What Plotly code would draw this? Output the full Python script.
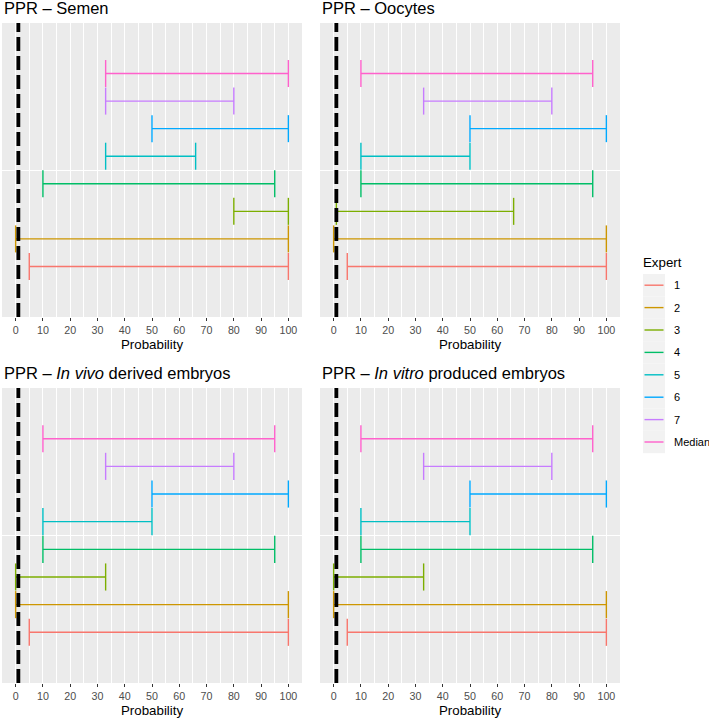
import plotly.graph_objects as go

W, H = 709, 720

EXPERTS = ["1", "2", "3", "4", "5", "6", "7", "Median"]
COLORS = ["#F8766D", "#CD9600", "#7CAE00", "#00BE67", "#00BFC4", "#00A9FF", "#C77CFF", "#FF61CC"]

PANELS = ["PPR – Semen", "PPR – Oocytes",
          "PPR – <i>In vivo</i> derived embryos", "PPR – <i>In vitro</i> produced embryos"]

semen_low = [5, 0, 80, 10, 33, 50, 33, 33]
semen_high = [100, 100, 100, 95, 66, 100, 80, 100]
oocytes_low = [5, 0, 1, 10, 10, 50, 33, 10]
oocytes_high = [100, 100, 66, 95, 50, 100, 80, 95]
invivo_low = [5, 0, 0, 10, 10, 50, 33, 10]
invivo_high = [100, 100, 33, 95, 50, 100, 80, 95]
invitro_low = [5, 0, 0, 10, 10, 50, 33, 10]
invitro_high = [100, 100, 33, 95, 50, 100, 80, 95]

THRESHOLD = 1
X_TICKS = list(range(0, 101, 10))

LOWS = [semen_low, oocytes_low, invivo_low, invitro_low]
HIGHS = [semen_high, oocytes_high, invivo_high, invitro_high]

FONT = "Liberation Sans, Arial, sans-serif"

# panel pixel boxes (left, right, top, bottom)
BOXES = [(2, 302, 23, 317), (320, 620, 23, 317), (2, 302, 388, 683), (320, 620, 388, 683)]

fig = go.Figure()
slot = 0.9 / len(EXPERTS)
half_cap = slot / 2 * 0.98

for pi in range(4):
    sfx = "" if pi == 0 else str(pi + 1)
    for i, (name, col) in enumerate(zip(EXPERTS, COLORS)):
        lo, hi = LOWS[pi][i], HIGHS[pi][i]
        p = 1 + (i - (len(EXPERTS) - 1) / 2) * slot
        fig.add_trace(go.Scatter(
            x=[lo, lo, None, lo, hi, None, hi, hi],
            y=[p - half_cap, p + half_cap, None, p, p, None, p - half_cap, p + half_cap],
            mode="lines", line=dict(color=col, width=1.4),
            name=name, legendgroup=name, showlegend=False,
            xaxis="x" + sfx, yaxis="y" + sfx, hoverinfo="skip"))
    fig.add_shape(type="line", xref="x" + sfx, yref="y" + sfx + " domain",
                  x0=THRESHOLD, x1=THRESHOLD, y0=0, y1=1,
                  line=dict(color="black", width=3.8, dash="14px,5px"), layer="above")

layout = dict(
    width=W, height=H, margin=dict(l=0, r=0, t=0, b=0),
    paper_bgcolor="white", plot_bgcolor="#EBEBEB", showlegend=False,
    font=dict(family=FONT, color="black"),
)
for pi, (l, r, t, b) in enumerate(BOXES):
    sfx = "" if pi == 0 else str(pi + 1)
    layout["xaxis" + sfx] = dict(
        domain=[l / W, r / W], anchor="y" + sfx, range=[-5, 105],
        tickvals=X_TICKS, ticks="outside", ticklen=3, tickwidth=1, tickcolor="#333333",
        tickfont=dict(size=10.7, color="#4D4D4D", family=FONT),
        showgrid=True, gridcolor="white", gridwidth=1.1, zeroline=False, showline=False,
        minor=dict(tickvals=[x + 5 for x in X_TICKS[:-1]], showgrid=True,
                   gridcolor="white", gridwidth=0.5, ticks=""),
        fixedrange=True)
    layout["yaxis" + sfx] = dict(
        domain=[1 - b / H, 1 - t / H], anchor="x" + sfx, range=[0.4, 1.6],
        tickvals=[1], showticklabels=False, ticks="",
        showgrid=True, gridcolor="white", gridwidth=1.1, zeroline=False, showline=False,
        fixedrange=True)
fig.update_layout(**layout)

ann = []
for pi, (l, r, t, b) in enumerate(BOXES):
    ann.append(dict(text=PANELS[pi], xref="paper", yref="paper", x=l / W, y=1 - (t - 15) / H,
                    xanchor="left", yanchor="middle", showarrow=False,
                    font=dict(size=16.5, color="black", family=FONT)))
    ann.append(dict(text="Probability", xref="paper", yref="paper", x=(l + 13.6 + (r - l - 27.2) / 2) / W,
                    y=1 - (b + 27) / H, xanchor="center", yanchor="middle", showarrow=False,
                    font=dict(size=13.3, color="black", family=FONT)))

# manual legend
LEG_X0, LEG_X1 = 643, 665
LEG_TOP = 274
STEP = 22.4
ann.append(dict(text="Expert", xref="paper", yref="paper", x=641 / W, y=1 - 262 / H,
                xanchor="left", yanchor="middle", showarrow=False,
                font=dict(size=13.3, color="black", family=FONT)))
shapes = []
for i, (name, col) in enumerate(zip(EXPERTS, COLORS)):
    yt = LEG_TOP + i * STEP
    yc = yt + STEP / 2
    shapes.append(dict(type="rect", xref="paper", yref="paper",
                       x0=LEG_X0 / W, x1=LEG_X1 / W, y0=1 - yt / H, y1=1 - (yt + STEP) / H,
                       fillcolor="#F2F2F2", line=dict(width=0), layer="below"))
    shapes.append(dict(type="line", xref="paper", yref="paper",
                       x0=(LEG_X0 + 1.5) / W, x1=(LEG_X1 - 1.5) / W, y0=1 - yc / H, y1=1 - yc / H,
                       line=dict(color=col, width=1.4)))
    ann.append(dict(text=name, xref="paper", yref="paper", x=672 / W, y=1 - yc / H,
                    xanchor="left", yanchor="middle", showarrow=False,
                    font=dict(size=11, color="black", family=FONT)))

fig.update_layout(annotations=ann, shapes=list(fig.layout.shapes) + shapes)
fig.write_html("out.html", config={"displayModeBar": False},
               post_script="document.body.style.margin='0';document.body.style.padding='0';"
                           "document.body.style.overflow='hidden';")
